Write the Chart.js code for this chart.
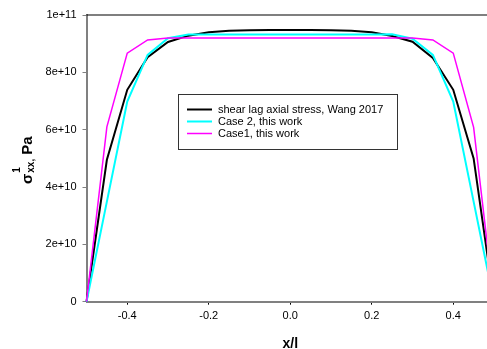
<!DOCTYPE html>
<html>
<head>
<meta charset="utf-8">
<script src="https://cdn.jsdelivr.net/npm/chart.js@4/dist/chart.umd.min.js"></script>
<style>
  html, body { margin: 0; padding: 0; background: #fff; overflow: hidden; }
  #wrap { width: 500px; height: 349px; }
</style>
</head>
<body>
<div id="wrap"><canvas id="stressChart" width="500" height="349"></canvas></div>
<script>
// normalised position along the fibre
const xPos = [-0.5, -0.45, -0.4, -0.35, -0.3, -0.25, -0.2, -0.15, -0.1, -0.05, 0,
              0.05, 0.1, 0.15, 0.2, 0.25, 0.3, 0.35, 0.4, 0.45, 0.5];

// axial stress, Pa
const wangStress = [0, 4.95e10, 7.39e10, 8.53e10, 9.06e10, 9.28e10, 9.40e10, 9.45e10, 9.47e10, 9.48e10, 9.48e10,
                    9.48e10, 9.47e10, 9.45e10, 9.40e10, 9.27e10, 9.07e10, 8.50e10, 7.39e10, 5.00e10, 0];
const case2Stress = [0, 3.49e10, 6.98e10, 8.61e10, 9.19e10, 9.32e10, 9.32e10, 9.32e10, 9.32e10, 9.32e10, 9.32e10,
                     9.32e10, 9.32e10, 9.32e10, 9.32e10, 9.33e10, 9.17e10, 8.61e10, 6.98e10, 3.49e10, 0];
const case1Stress = [0, 6.10e10, 8.67e10, 9.13e10, 9.20e10, 9.20e10, 9.20e10, 9.20e10, 9.20e10, 9.20e10, 9.20e10,
                     9.20e10, 9.20e10, 9.20e10, 9.20e10, 9.20e10, 9.20e10, 9.13e10, 8.67e10, 6.08e10, 0];

const seriesNames = ["shear lag axial stress, Wang 2017", "Case 2, this work", "Case1, this work"];
const seriesColors = ["#000000", "#00ffff", "#ff00ff"];

const xTicks = [-0.4, -0.2, 0, 0.2, 0.4];
const xTickLabels = ["-0.4", "-0.2", "0.0", "0.2", "0.4"];
const yTicks = [0, 2e10, 4e10, 6e10, 8e10, 1e11];
const yTickLabels = ["0", "2e+10", "4e+10", "6e+10", "8e+10", "1e+11"];

const FONT = 'Arial, "Liberation Sans", sans-serif';

function toPoints(ys) {
  return xPos.map((x, i) => ({ x: x, y: ys[i] }));
}

// frame line on top, axis titles and the boxed legend
const overlay = {
  id: "overlay",
  afterDraw(chart) {
    const ctx = chart.ctx;
    const a = chart.chartArea;
    ctx.save();

    ctx.strokeStyle = "#000";
    ctx.lineWidth = 1.2;
    ctx.beginPath();
    ctx.moveTo(a.left, a.top);
    ctx.lineTo(a.right, a.top);
    ctx.stroke();

    // x title, centred under x = 0
    ctx.fillStyle = "#000";
    ctx.font = "bold 14px " + FONT;
    ctx.textAlign = "center";
    ctx.textBaseline = "alphabetic";
    ctx.fillText("x/l", chart.scales.x.getPixelForValue(0), 348);

    // y title: sigma with super/subscript, rotated
    ctx.save();
    ctx.translate(32, 184);
    ctx.rotate(-Math.PI / 2);
    ctx.textAlign = "left";
    ctx.font = "bold 15px " + FONT;
    ctx.fillText("σ", 0, 0);
    let p = ctx.measureText("σ").width + 1;
    ctx.font = "bold 10px " + FONT;
    ctx.fillText("1", p, -12);
    ctx.fillText("xx,", p, 2);
    p += ctx.measureText("xx,").width;
    ctx.font = "bold 15px " + FONT;
    ctx.fillText(" Pa", p, 0);
    ctx.restore();

    // legend
    ctx.strokeStyle = "#333";
    ctx.lineWidth = 1;
    ctx.strokeRect(178.5, 94.5, 219, 55);
    ctx.font = "11px " + FONT;
    ctx.textAlign = "left";
    ctx.textBaseline = "middle";
    const rows = [109.5, 121.5, 133.5];
    chart.data.datasets.forEach((ds, i) => {
      ctx.strokeStyle = ds.borderColor;
      ctx.lineWidth = ds.borderWidth;
      ctx.beginPath();
      ctx.moveTo(187, rows[i]);
      ctx.lineTo(212, rows[i]);
      ctx.stroke();
      ctx.fillStyle = "#000";
      ctx.fillText(ds.label, 218, rows[i]);
    });

    ctx.restore();
  }
};

new Chart(document.getElementById("stressChart"), {
  type: "line",
  data: {
    datasets: [
      { label: seriesNames[0], data: toPoints(wangStress), borderColor: seriesColors[0], borderWidth: 2, order: 2 },
      { label: seriesNames[1], data: toPoints(case2Stress), borderColor: seriesColors[1], borderWidth: 2, order: 1 },
      { label: seriesNames[2], data: toPoints(case1Stress), borderColor: seriesColors[2], borderWidth: 1.5, order: 0 }
    ]
  },
  options: {
    responsive: false,
    animation: false,
    devicePixelRatio: 1,
    layout: { padding: { left: 0, top: 15, right: 6, bottom: 0 } },
    elements: {
      point: { radius: 0 },
      line: { tension: 0, fill: false }
    },
    clip: false,
    plugins: { legend: { display: false }, tooltip: { enabled: false } },
    scales: {
      x: {
        type: "linear",
        min: -0.5,
        max: 0.5,
        afterBuildTicks: s => { s.ticks = xTicks.map(v => ({ value: v })); },
        afterFit: s => { s.height = 47.3; },
        ticks: {
          callback: (v, i) => xTickLabels[i],
          font: { family: FONT, size: 11 },
          color: "#000",
          padding: 5,
          maxRotation: 0,
          autoSkip: false
        },
        grid: { drawOnChartArea: false, tickLength: 3, tickColor: "#000" },
        border: { color: "#808080", width: 2 }
      },
      y: {
        min: 0,
        max: 1e11,
        afterBuildTicks: s => { s.ticks = yTicks.map(v => ({ value: v })); },
        afterFit: s => { s.width = 86.5; },
        ticks: {
          callback: (v, i) => yTickLabels[i],
          font: { family: FONT, size: 11 },
          color: "#000",
          padding: 6,
          autoSkip: false
        },
        grid: { drawOnChartArea: false, tickLength: 4, tickColor: "#808080" },
        border: { color: "#808080", width: 2 }
      }
    }
  },
  plugins: [overlay]
});
</script>
</body>
</html>
